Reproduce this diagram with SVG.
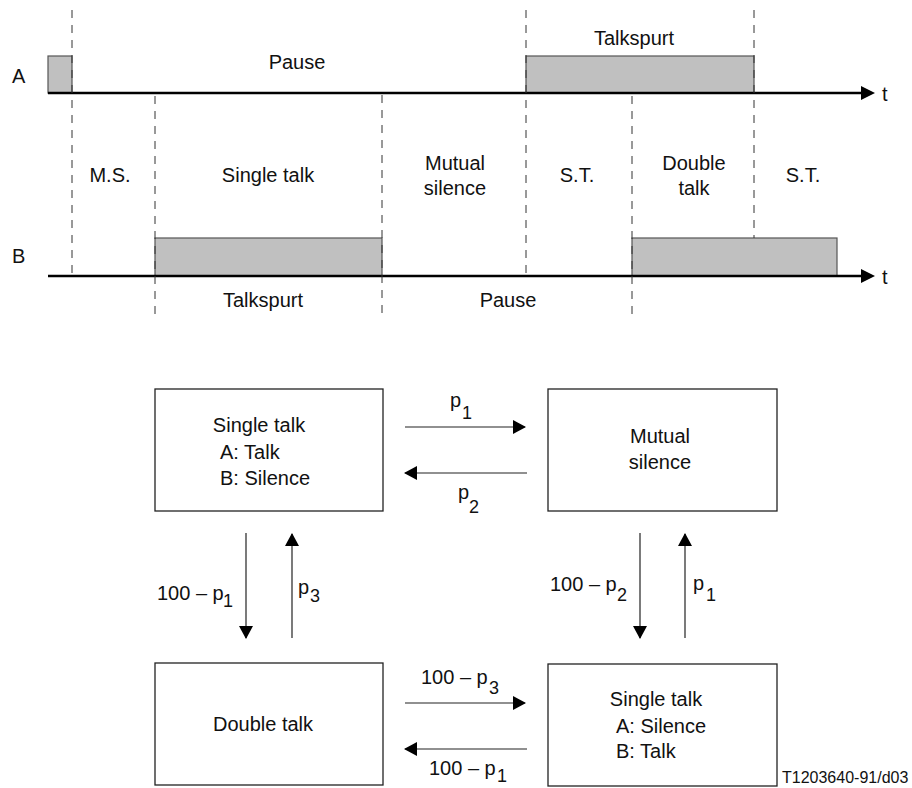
<svg xmlns="http://www.w3.org/2000/svg" width="912" height="788" viewBox="0 0 912 788">
<defs>
<style>
text{font-family:"Liberation Sans",Arial,sans-serif;font-size:20px;fill:#111}
.c{text-anchor:middle}
.sub{font-size:18px}
.small{font-size:16px}
.dash{stroke:#333;stroke-width:1;stroke-dasharray:8 7;fill:none}
.axis{stroke:#000;stroke-width:2.5;fill:none}
.burst{fill:#c0c0c0;stroke:#555;stroke-width:1.2}
.box{fill:#fff;stroke:#222;stroke-width:1.3}
.conn{stroke:#222;stroke-width:1.2;fill:none}
</style>
<marker id="ah" markerUnits="userSpaceOnUse" markerWidth="13" markerHeight="14" refX="12" refY="7" orient="auto">
<path d="M0,0 L13,7 L0,14 z" fill="#000"/>
</marker>
<marker id="th" markerUnits="userSpaceOnUse" markerWidth="14" markerHeight="14" refX="0" refY="7" orient="auto">
<path d="M0,0 L14,7 L0,14 z" fill="#000"/>
</marker>
</defs>
<rect width="912" height="788" fill="#fff"/>

<g id="timeline">
<rect class="burst" x="48" y="56" width="24" height="37"/>
<rect class="burst" x="526" y="56" width="228" height="37"/>
<rect class="burst" x="155" y="238" width="227" height="38"/>
<rect class="burst" x="632" y="238" width="205" height="38"/>
<line class="axis" x1="48" y1="93" x2="861" y2="93" marker-end="url(#th)"/>
<line class="axis" x1="48" y1="276" x2="861" y2="276" marker-end="url(#th)"/>
<line class="dash" x1="72" y1="10" x2="72" y2="277"/>
<line class="dash" x1="155" y1="96" x2="155" y2="320"/>
<line class="dash" x1="382" y1="95" x2="382" y2="320"/>
<line class="dash" x1="526" y1="10" x2="526" y2="277"/>
<line class="dash" x1="632" y1="96" x2="632" y2="320"/>
<line class="dash" x1="754" y1="10" x2="754" y2="238"/>
<text x="12" y="83">A</text>
<text x="12" y="263">B</text>
<text x="882" y="101">t</text>
<text x="882" y="284">t</text>
<text class="c" x="297" y="69">Pause</text>
<text class="c" x="634" y="45">Talkspurt</text>
<text class="c" x="110" y="182">M.S.</text>
<text class="c" x="268" y="182">Single talk</text>
<text class="c" x="455" y="170">Mutual</text>
<text class="c" x="455" y="195">silence</text>
<text class="c" x="577" y="182">S.T.</text>
<text class="c" x="694" y="170">Double</text>
<text class="c" x="694" y="195">talk</text>
<text class="c" x="803" y="182">S.T.</text>
<text class="c" x="263" y="307">Talkspurt</text>
<text class="c" x="508" y="307">Pause</text>
</g>

<g id="st-ab">
<rect class="box" x="155" y="389" width="228" height="122"/>
<text class="c" x="259" y="432">Single talk</text>
<text x="220" y="459">A: Talk</text>
<text x="220" y="485">B: Silence</text>
</g>
<g id="ms">
<rect class="box" x="548" y="389" width="229" height="122"/>
<text class="c" x="660" y="443">Mutual</text>
<text class="c" x="660" y="469">silence</text>
</g>
<g id="dt">
<rect class="box" x="155" y="663" width="228" height="122"/>
<text class="c" x="263" y="731">Double talk</text>
</g>
<g id="st-ba">
<rect class="box" x="548" y="664" width="229" height="122"/>
<text class="c" x="656" y="706">Single talk</text>
<text x="616" y="733">A: Silence</text>
<text x="616" y="758">B: Talk</text>
</g>

<g id="connectors">
<line class="conn" x1="405" y1="427" x2="525" y2="427" marker-end="url(#ah)"/>
<line class="conn" x1="527" y1="473" x2="405" y2="473" marker-end="url(#ah)"/>
<line class="conn" x1="246" y1="533" x2="246" y2="638" marker-end="url(#ah)"/>
<line class="conn" x1="292" y1="638" x2="292" y2="534" marker-end="url(#ah)"/>
<line class="conn" x1="640" y1="533" x2="640" y2="638" marker-end="url(#ah)"/>
<line class="conn" x1="685" y1="638" x2="685" y2="534" marker-end="url(#ah)"/>
<line class="conn" x1="405" y1="703" x2="525" y2="703" marker-end="url(#ah)"/>
<line class="conn" x1="527" y1="749" x2="405" y2="749" marker-end="url(#ah)"/>
<text x="450" y="407">p</text><text class="sub" x="462" y="419">1</text>
<text x="458" y="499">p</text><text class="sub" x="469" y="513">2</text>
<text x="157" y="600">100 – p</text><text class="sub" x="223" y="607">1</text>
<text x="298" y="594">p</text><text class="sub" x="310" y="602">3</text>
<text x="550" y="591">100 – p</text><text class="sub" x="617" y="601">2</text>
<text x="693" y="590">p</text><text class="sub" x="706" y="601">1</text>
<text x="421" y="684">100 – p</text><text class="sub" x="489" y="694">3</text>
<text x="429" y="775">100 – p</text><text class="sub" x="497" y="782">1</text>
</g>
<text class="small" x="782" y="783">T1203640-91/d03</text>
</svg>
